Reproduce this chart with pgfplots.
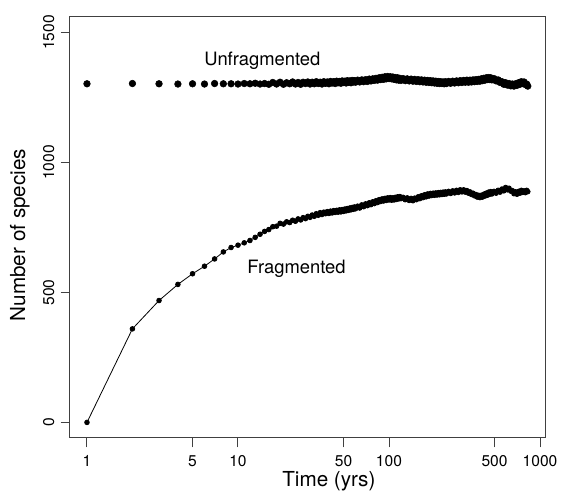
\documentclass[border=0pt]{standalone}
\usepackage{fontspec}
\setmainfont{TeX Gyre Heros}
\usepackage{pgfplots}
\usepackage{pgfplotstable}
\pgfplotsset{compat=1.18}

\pgfplotstableread{
t n
1 1303
2 1304
3 1303
4 1302
5 1303
6 1302
7 1304
8 1303
9 1303
10 1302
11 1304
12 1303
13 1305
14 1302
15 1304
16 1301
17 1308
18 1302
19 1309
20 1301
21 1307
22 1303
23 1310
24 1302
25 1308
26 1301
27 1309
28 1304
29 1310
30 1302
31 1309
32 1303
33 1311
34 1304
35 1309
36 1302
37 1311
38 1305
39 1310
40 1303
41 1312
42 1306
43 1311
44 1304
45 1313
46 1307
47 1312
48 1305
49 1314
50 1308
51 1313
52 1306
53 1315
54 1309
55 1314
56 1307
57 1316
58 1310
59 1315
60 1309
62 1317
64 1310
66 1318
68 1311
70 1319
72 1312
74 1321
76 1314
78 1322
80 1316
82 1324
84 1317
86 1326
88 1319
90 1328
92 1320
94 1330
96 1322
98 1331
100 1323
102 1330
104 1322
106 1329
108 1320
110 1327
112 1318
114 1326
116 1317
118 1324
120 1316
124 1323
128 1315
132 1322
136 1314
140 1321
144 1313
148 1320
152 1312
156 1319
160 1311
164 1318
168 1310
172 1317
176 1309
180 1316
184 1308
188 1315
192 1307
196 1314
200 1306
204 1313
208 1305
212 1312
216 1304
220 1311
224 1304
228 1310
232 1303
236 1311
240 1304
248 1312
256 1305
264 1313
272 1306
280 1314
288 1307
296 1315
304 1308
312 1316
320 1309
328 1317
336 1309
344 1317
352 1310
360 1318
368 1311
376 1319
384 1312
392 1320
400 1313
408 1322
416 1315
424 1324
432 1317
440 1326
448 1319
456 1327
464 1319
472 1326
480 1318
496 1323
512 1314
528 1318
544 1308
560 1311
576 1301
592 1307
608 1298
624 1304
640 1295
656 1302
672 1294
688 1303
704 1297
720 1307
736 1301
752 1311
768 1304
784 1310
800 1300
816 1302
830 1294
}\unfrag

\pgfplotstableread{
t n
1 0
2 360
3 469
4 531
5 572
6 601
7 629
8 656
9 673
10 682
11 691
12 700
13 712
14 724
15 735
16 742
17 753
18 755
19 766
20 763
21 772
22 769
23 778
24 774
25 783
26 779
27 788
28 784
29 793
30 789
31 798
32 793
33 803
34 797
35 807
36 800
37 809
38 803
39 811
40 804
41 813
42 806
43 815
44 808
45 816
46 809
47 818
48 810
49 819
50 812
51 821
52 814
53 823
54 816
55 825
56 818
57 827
58 820
59 829
60 822
62 832
64 825
66 837
68 830
70 841
72 834
74 845
76 838
78 849
80 842
82 853
84 846
86 857
88 850
90 860
92 852
94 862
96 854
98 864
100 856
102 865
104 855
106 864
108 856
110 866
112 858
114 868
116 860
118 869
120 861
124 866
128 857
132 864
136 854
140 862
144 853
148 863
152 857
156 868
160 861
164 872
168 865
172 876
176 868
180 879
184 871
188 881
192 873
196 882
200 874
204 883
208 875
212 884
216 876
220 885
224 877
228 886
232 878
236 887
240 879
248 889
256 881
264 891
272 883
280 893
288 885
296 895
304 887
312 895
320 886
328 892
336 882
344 887
352 877
360 882
368 872
376 877
384 867
392 874
400 865
408 874
416 867
424 878
432 871
440 882
448 874
456 886
464 878
472 888
480 879
496 889
512 882
528 893
544 886
560 898
576 891
592 904
608 895
624 901
640 890
656 892
672 880
688 887
704 878
720 889
736 882
752 893
768 885
784 891
800 884
816 893
830 888
}\frag

\begin{document}
\begin{tikzpicture}
\begin{axis}[
  scale only axis,
  width=356.25pt, height=315.75pt,
  xmode=log, xmin=0.772, xmax=1079,
  ymin=-60, ymax=1560,
  xtick={1,5,10,50,100,500,1000},
  xticklabels={1,5,10,50,100,500,1000},
  xminorticks=false,
  ytick={0,500,1000,1500},
  yticklabels={0,500,1000,1500},
  tick align=outside,
  xtick pos=left, ytick pos=left,
  major tick length=7pt,
  tick style={black!75, line width=0.75pt},
  axis line style={black!75, line width=0.75pt},
  tick label style={font=\fontsize{11.7}{14}\selectfont},
  xticklabel style={anchor=north, inner xsep=0pt, inner ysep=5.8pt},
  yticklabel style={rotate=90, anchor=south, inner xsep=0pt, inner ysep=4.6pt},
  label style={font=\fontsize{15.5}{18}\selectfont},
  xlabel={Time (yrs)},
  ylabel={Number of species},
  xlabel style={at={(axis description cs:0.545,-0.1157)}, anchor=base},
  ylabel style={at={(axis description cs:-0.0947,0.482)}, anchor=base},
]
\addplot[only marks, mark=*, mark size=2.5pt, black] table[x=t, y=n] {\unfrag};
\addplot[black, line width=0.6pt, mark=*, mark size=1.75pt, mark options={solid, fill=black}] table[x=t, y=n] {\frag};
\node[font=\fontsize{13.8}{16}\selectfont] at (axis cs:14.5,1392) {Unfragmented};
\node[font=\fontsize{13.8}{16}\selectfont] at (axis cs:24.4,592) {Fragmented};
\end{axis}
\pgfresetboundingbox
\path ([xshift=-52.5pt,yshift=-42.75pt]current axis.south west) rectangle ([xshift=13.5pt,yshift=12.75pt]current axis.north east);
\end{tikzpicture}
\end{document}
